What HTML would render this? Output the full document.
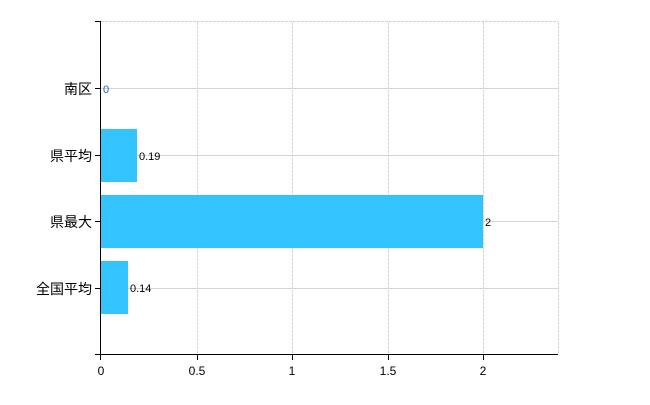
<!DOCTYPE html><html><head><style>body{margin:0;background:#fff}</style></head><body>
<svg width="650" height="400" xmlns="http://www.w3.org/2000/svg" font-family="Liberation Sans, Noto Sans CJK JP, sans-serif">
<g stroke="#d4d4d4" stroke-width="1">
<line x1="101" y1="21.5" x2="558" y2="21.5" stroke-dasharray="3,1"/>
<line x1="197.5" y1="22" x2="197.5" y2="354" stroke-dasharray="3,1"/>
<line x1="292.5" y1="22" x2="292.5" y2="354" stroke-dasharray="3,1"/>
<line x1="388.5" y1="22" x2="388.5" y2="354" stroke-dasharray="3,1"/>
<line x1="483.5" y1="22" x2="483.5" y2="354" stroke-dasharray="3,1"/>
<line x1="558.5" y1="22" x2="558.5" y2="354" stroke-dasharray="3,1"/>
<line x1="101" y1="88.5" x2="558" y2="88.5"/>
<line x1="101" y1="155.5" x2="558" y2="155.5"/>
<line x1="101" y1="221.5" x2="558" y2="221.5"/>
<line x1="101" y1="288.5" x2="558" y2="288.5"/>
</g>
<g fill="#33c4ff">
<rect x="101" y="129" width="36" height="53"/>
<rect x="101" y="195" width="382" height="53"/>
<rect x="101" y="261" width="27" height="53"/>
</g>
<g stroke="#000" stroke-width="1">
<line x1="100.5" y1="21" x2="100.5" y2="354"/>
<line x1="95" y1="354.5" x2="558" y2="354.5"/>
<line x1="95" y1="21.5" x2="101" y2="21.5"/>
<line x1="95" y1="88.5" x2="101" y2="88.5"/>
<line x1="95" y1="155.5" x2="101" y2="155.5"/>
<line x1="95" y1="221.5" x2="101" y2="221.5"/>
<line x1="95" y1="288.5" x2="101" y2="288.5"/>
<line x1="100.5" y1="354" x2="100.5" y2="360"/>
<line x1="197.5" y1="354" x2="197.5" y2="360"/>
<line x1="292.5" y1="354" x2="292.5" y2="360"/>
<line x1="388.5" y1="354" x2="388.5" y2="360"/>
<line x1="483.5" y1="354" x2="483.5" y2="360"/>
</g>
<g font-size="14" text-anchor="end" fill="#000">
<text x="92" y="94">南区</text>
<text x="92" y="161">県平均</text>
<text x="92" y="227">県最大</text>
<text x="92" y="294">全国平均</text>
</g>
<g font-size="12" text-anchor="middle" fill="#000">
<text x="101" y="375">0</text><text x="197" y="375">0.5</text><text x="292" y="375">1</text><text x="388" y="375">1.5</text><text x="483" y="375">2</text>
</g>
<g font-size="11" fill="#000">
<text x="103" y="93" fill="#1a6fb0">0</text>
<text x="139" y="160">0.19</text>
<text x="485" y="226">2</text>
<text x="130" y="292">0.14</text>
</g>
</svg></body></html>
